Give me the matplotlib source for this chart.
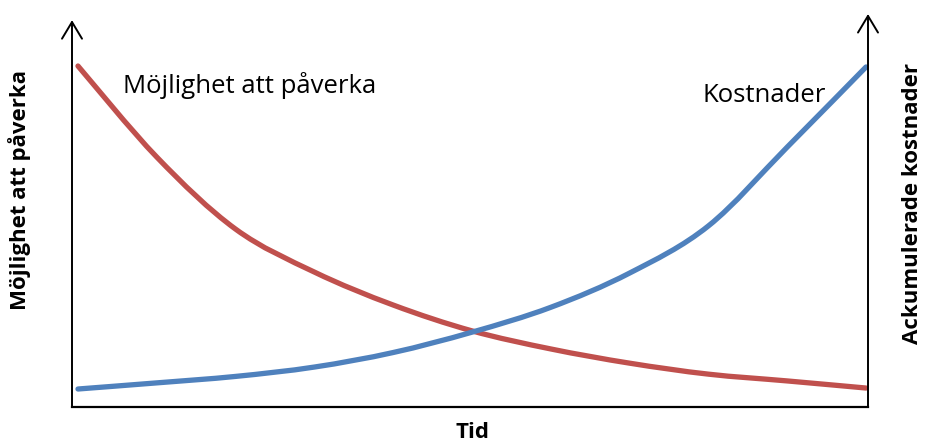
import matplotlib.pyplot as plt
from matplotlib.path import Path
from matplotlib.patches import PathPatch

# time axis and the two curves (relative units, 0-100)
tid = [0, 10, 20, 30, 40, 50, 60, 70, 80, 90, 100]
paverka = [100.0, 71.8, 49.5, 36.2, 26.0, 18.0, 12.4, 8.0, 4.6, 2.5, 0.3]
kostnader = [0.0, 1.9, 3.9, 6.8, 11.3, 17.6, 25.3, 35.9, 50.5, 74.9, 99.7]

plt.rcParams['font.family'] = ['Open Sans', 'DejaVu Sans']


def smooth_path(xs, ys):
    # smoothed line (Catmull-Rom through the points, as cubic Bezier segments)
    pts = list(zip(xs, ys))
    ext = [pts[0]] + pts + [pts[-1]]
    verts = [pts[0]]
    codes = [Path.MOVETO]
    for i in range(1, len(ext) - 2):
        p0, p1, p2, p3 = ext[i - 1], ext[i], ext[i + 1], ext[i + 2]
        c1 = (p1[0] + (p2[0] - p0[0]) / 6, p1[1] + (p2[1] - p0[1]) / 6)
        c2 = (p2[0] - (p3[0] - p1[0]) / 6, p2[1] - (p3[1] - p1[1]) / 6)
        verts += [c1, c2, p2]
        codes += [Path.CURVE4] * 3
    return Path(verts, codes)


fig = plt.figure(figsize=(9.26, 4.45), dpi=100)
ax = fig.add_axes([72 / 926, 38 / 445, 796 / 926, 393 / 445])
ax.set_xlim(-0.76, 100.25)
ax.set_ylim(-5.57, 116.1)
ax.axis('off')

for ys, col in [(paverka, '#C0504D'), (kostnader, '#4F81BD')]:
    ax.add_patch(PathPatch(smooth_path(tid, ys), facecolor='none', edgecolor=col,
                           lw=3.8, capstyle='round', joinstyle='round'))

# axes: bottom line plus two arrows
ax.plot([-0.76, 100.25], [-5.57, -5.57], color='black', lw=1.6, clip_on=False)
arrow = dict(arrowstyle='->,head_length=0.6,head_width=0.36', lw=1.4,
             color='black', mutation_scale=20, shrinkA=0, shrinkB=0)
ax.annotate('', xy=(-0.76, 114.2), xytext=(-0.76, -5.57), arrowprops=arrow,
            annotation_clip=False)
ax.annotate('', xy=(100.25, 116.1), xytext=(100.25, -5.57), arrowprops=arrow,
            annotation_clip=False)

ax.text(5.7, 91.6, 'Möjlighet att påverka', fontsize=18.5, va='baseline', ha='left')
ax.text(79.3, 88.9, 'Kostnader', fontsize=18.5, va='baseline', ha='left')

fig.text(20 / 926, 1 - 190 / 445, 'Möjlighet att påverka', rotation=90,
         fontsize=16, fontweight='bold', ha='center', va='center')
fig.text(913 / 926, 1 - 203 / 445, 'Ackumulerade kostnader', rotation=90,
         fontsize=16, fontweight='bold', ha='center', va='center')
fig.text(473 / 926, 1 - 433 / 445, 'Tid', fontsize=16, fontweight='bold',
         ha='center', va='center')

fig.savefig('out.png', dpi=100)
